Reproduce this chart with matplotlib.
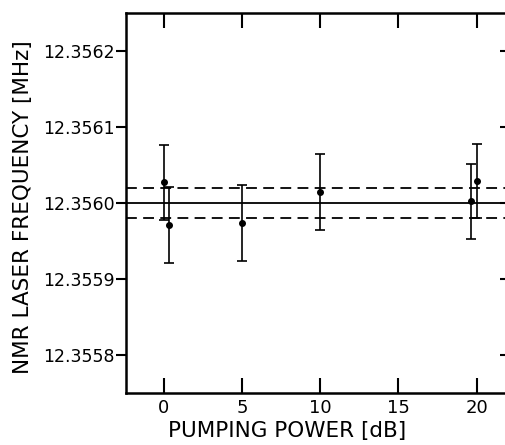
import numpy as np
import matplotlib
matplotlib.use("Agg")
import matplotlib.pyplot as plt

# measured points: pumping power [dB], frequency offset from 12.3560 MHz [1e-4 MHz]
power = [0.0, 0.35, 5.0, 10.0, 19.65, 20.05]
offset = [0.27, -0.29, -0.26, 0.14, 0.02, 0.29]
error = [0.49, 0.50, 0.50, 0.50, 0.49, 0.49]

f0 = 12.3560
band = 0.2  # dashed band, same units as offset
xticks = [0, 5, 10, 15, 20]
yticks = [12.3558, 12.3559, 12.3560, 12.3561, 12.3562]

freq = f0 + np.array(offset) * 1e-4
ferr = np.array(error) * 1e-4

plt.rcParams['font.family'] = ['DejaVu Sans']

fig = plt.figure(figsize=(5.05, 4.45), dpi=100)
# right spine sits just past the image edge, as in the original scan
ax = fig.add_axes([126 / 505, 52 / 445, 386 / 505, 380 / 445])

ax.axhline(f0, color='black', lw=1.3)
ax.axhline(f0 + band * 1e-4, color='black', lw=1.3, ls=(0, (6, 3.5)))
ax.axhline(f0 - band * 1e-4, color='black', lw=1.3, ls=(0, (6, 3.5)))

ax.errorbar(power, freq, yerr=ferr, fmt='o', color='black', ms=4,
            elinewidth=1.2, capsize=3.5, capthick=1.2)

ax.set_xlim(-2.43, 22.27)
ax.set_ylim(12.35575, 12.35625)
ax.set_xticks(xticks)
ax.set_xticklabels([str(t) for t in xticks])
ax.set_yticks(yticks)
ax.set_yticklabels(['%.4f' % t for t in yticks])

ax.tick_params(axis='x', direction='in', length=11, width=1.5, top=True,
               labelsize=13, pad=4)
ax.tick_params(axis='y', direction='out', length=7, width=1.5,
               labelsize=12.5, pad=1)
ax.tick_params(axis='y', which='major', right=True)
for t in ax.yaxis.get_ticklines()[1::2]:
    t.set_marker(matplotlib.lines.TICKLEFT)
    t.set_markersize(9)
for s in ax.spines.values():
    s.set_linewidth(1.8)

ax.set_xlabel('PUMPING POWER [dB]', fontsize=15.5)
ax.xaxis.set_label_coords((287 - 126) / 386, -28 / 380)
ax.set_ylabel('NMR LASER FREQUENCY [MHz]', fontsize=15.5)
ax.yaxis.set_label_coords(-93 / 386, 0.49)

fig.savefig('out.png', dpi=100)
